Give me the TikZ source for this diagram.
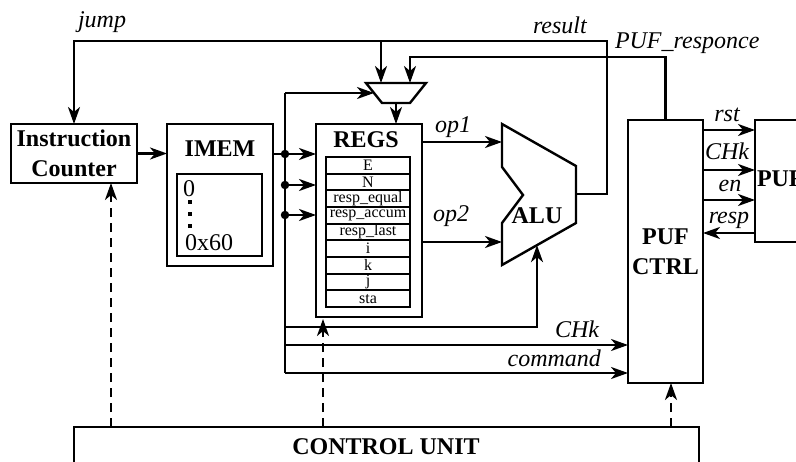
\documentclass[tikz,border=0pt]{standalone}
\usepackage{fontspec}
\setmainfont{Liberation Serif}
\usetikzlibrary{arrows.meta,calc}
\begin{document}
\begin{tikzpicture}[x=1pt,y=-1pt,
 box/.style={draw,line width=2.5pt,inner sep=0pt,outer sep=0pt,anchor=north west},
 big/.style={font=\fontsize{24}{30}\selectfont},
 ttl/.style={font=\fontsize{24}{30}\selectfont\bfseries,inner sep=0pt,outer sep=0pt},
 lbl/.style={font=\fontsize{24}{30}\selectfont\itshape,inner sep=0pt,outer sep=0pt},
 reg/.style={draw,line width=1.7pt,inner sep=0pt,outer sep=0pt,anchor=north west,minimum width=84pt,minimum height=16.67pt,font=\fontsize{16}{16}\selectfont},
 wire/.style={line width=2.4pt},
 arr/.style={wire,-{Stealth[length=17pt,width=12pt,inset=5pt]}},
 darr/.style={arr,dash pattern=on 9pt off 6pt},
 jdot/.style={circle,fill,inner sep=0pt,minimum size=8.5pt},
 sq/.style={rectangle,fill,inner sep=0pt,minimum size=4pt}
]
\useasboundingbox (0,0) rectangle (796,461);
\clip (0,0) rectangle (796,461);

% boxes
\node[box,minimum width=126pt,minimum height=59pt,align=center,font=\fontsize{24}{30}\selectfont\bfseries] (ic) at (11,124) {Instruction\\Counter};
\node[box,minimum width=106pt,minimum height=142pt] (imem) at (167,124) {};
\node[ttl,anchor=base] (imemt) at (220,156) {IMEM};
\node[box,minimum width=85pt,minimum height=82pt] (imemin) at (177,174) {};
\node[big,inner sep=0pt,anchor=base west] (z0) at (183,196) {0};
\node[sq] (s1) at (190,202) {};
\node[sq] (s2) at (190,214) {};
\node[sq] (s3) at (190,226) {};
\node[big,inner sep=0pt,anchor=base west] (z60) at (185,250) {0x60};

\node[box,minimum width=106pt,minimum height=193pt] (regs) at (316,124) {};
\node[ttl,anchor=base] (regst) at (366,147) {REGS};
\node[reg] (r1) at (326,157) {E};
\node[reg] (r2) at (326,173.67) {N};
\node[reg] (r3) at (326,190.33) {resp\_equal};
\node[reg] (r4) at (326,207) {resp\_accum};
\node[reg] (r5) at (326,223.67) {resp\_last};
\node[reg] (r6) at (326,240.33) {i};
\node[reg] (r7) at (326,257) {k};
\node[reg] (r8) at (326,273.67) {j};
\node[reg] (r9) at (326,290.33) {sta};

\node[box,minimum width=75pt,minimum height=263pt] (pc) at (628,120) {};
\node[ttl,align=center,anchor=center] (pct) at (665.5,252) {PUF\\CTRL};
\node[box,minimum width=70pt,minimum height=122pt] (puf) at (755,120) {};
\node[ttl,anchor=base west] (puft) at (757,186) {PUF};
\node[box,minimum width=625pt,minimum height=60pt] (cu) at (74,427) {};
\node[ttl,anchor=base] (cut) at (386,454) {CONTROL UNIT};

% ALU
\coordinate (aA) at (502,124);
\coordinate (aB) at (576,166);
\coordinate (aC) at (576,223);
\coordinate (aD) at (502,265);
\coordinate (aE) at (502,223);
\coordinate (aF) at (523,195);
\coordinate (aG) at (502,167);
\draw[wire,line join=miter] (aA) -- (aB) -- (aC) -- (aD) -- (aE) -- (aF) -- (aG) -- cycle;
\node[ttl,anchor=base] (alut) at (537,223) {ALU};
\coordinate (aluin1) at (502,142);
\coordinate (aluin2) at (502,242);
\coordinate (aluout) at (576,194);
\coordinate (alubot) at ($(aD)!0.473!(aC)$);

% MUX
\coordinate (mTL) at (366,83);
\coordinate (mTR) at (426,83);
\coordinate (mBR) at (410,103);
\coordinate (mBL) at (382,103);
\draw[wire,line join=miter] (mTL) -- (mTR) -- (mBR) -- (mBL) -- cycle;
\coordinate (min1) at (381,83);
\coordinate (min2) at (410,83);
\coordinate (mout) at (396,103);
\coordinate (mleft) at ($(mTL)!0.5!(mBL)$);

% bus
\coordinate (bt) at (285,93);
\coordinate (bb) at (285,373);
\coordinate (b1) at (285,327);
\coordinate (b2) at (285,345);
\node[jdot] (d1) at (285,154) {};
\node[jdot] (d2) at (285,185) {};
\node[jdot] (d3) at (285,215) {};
\draw[wire] (bt) -- (bb);
\draw[arr] (bt) -- (mleft);
\draw[arr] (imem.east |- d1) -- (regs.west |- d1);
\draw[arr] (d2.center) -- (regs.west |- d2);
\draw[arr] (d3.center) -- (regs.west |- d3);
\draw[arr] (b1) -| (alubot);
\draw[arr] (b2) -- (pc.west |- b2);
\draw[arr] (bb) -- (pc.west |- bb);

% IC -> IMEM
\draw[arr] (ic.east) -- (ic.east -| imem.west);

% mux out -> regs
\draw[arr] (mout) -- (mout |- regs.north);

% regs -> alu
\draw[arr] (regs.east |- aluin1) -- (aluin1);
\draw[arr] (regs.east |- aluin2) -- (aluin2);

% result / jump
\coordinate (rtop) at (607,41);
\draw[arr] (aluout) -| (rtop) -- (rtop -| ic.north) -- (ic.north);
\draw[arr] (min1 |- rtop) -- (min1);

% PUF_responce
\coordinate (ptop) at (410,57);
\draw[arr] (pc.north) |- (ptop) -- (min2);

% PUF ctrl <-> PUF
\coordinate (l1) at (0,130);
\coordinate (l2) at (0,170);
\coordinate (l3) at (0,200);
\coordinate (l4) at (0,233);
\draw[arr] (pc.east |- l1) -- (puf.west |- l1);
\draw[arr] (pc.east |- l2) -- (puf.west |- l2);
\draw[arr] (pc.east |- l3) -- (puf.west |- l3);
\draw[arr] (puf.west |- l4) -- (pc.east |- l4);

% dashed control arrows
\coordinate (c1) at (111,0);
\coordinate (c2) at (323,0);
\coordinate (c3) at (671,0);
\draw[darr] (cu.north -| c1) -- (ic.south -| c1);
\draw[darr] (cu.north -| c2) -- ($(regs.south -| c2)+(0,2)$);
\draw[darr] (cu.north -| c3) -- (pc.south -| c3);

% labels
\node[lbl,anchor=base west] (tjump) at (78,27) {jump};
\node[lbl,anchor=base west] (tres) at (533,33) {result};
\node[lbl,anchor=base west] (tpr) at (615,48) {PUF\_responce};
\node[lbl,anchor=base west] (top1) at (435,132) {op1};
\node[lbl,anchor=base west] (top2) at (433,221) {op2};
\node[lbl,anchor=base] (trst) at (727,121) {rst};
\node[lbl,anchor=base] (tchk) at (727,159) {CHk};
\node[lbl,anchor=base] (ten) at (730,191) {en};
\node[lbl,anchor=base] (tresp) at (729,223) {resp};
\node[lbl,anchor=base east] (tchk2) at (599,337) {CHk};
\node[lbl,anchor=base east] (tcmd) at (601,366) {command};
\end{tikzpicture}
\end{document}
